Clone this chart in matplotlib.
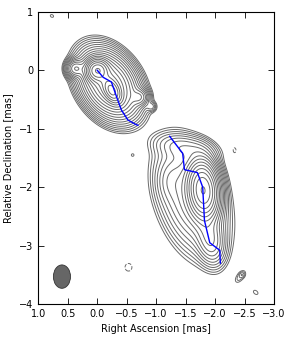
import numpy as np
import matplotlib
matplotlib.use('Agg')
import matplotlib.pyplot as plt
from matplotlib.patches import Ellipse

# Emission components (RA [mas], Dec [mas], amplitude in units of lowest contour,
# sigma major, sigma minor [mas], angle of major axis from +RA axis [deg])
comp_ra    = [0.00, 0.37, -0.25, -0.72, -0.92, -0.20, -1.80, -1.50, -1.92, -1.60, -1.22, 0.77, -0.60, -2.43, -2.46, -2.69, -2.33, -0.53]
comp_dec   = [0.00, 0.03, -0.35, -0.46, -0.62, -0.24, -2.05, -1.32, -2.90, -2.20, -1.90, 0.93, -1.45, -3.53, -3.50, -3.80, -1.37, -3.37]
comp_amp   = [300, 40, 300, 25, 4, 150, 250, 8, 20, 20, 4, 1.3, 1.2, 1.8, 1.2, 1.3, -1.3, -1.3]
comp_smaj  = [0.10, 0.08, 0.12, 0.08, 0.05, 0.29, 0.25, 0.28, 0.22, 0.50, 0.20, 0.04, 0.03, 0.10, 0.03, 0.06, 0.07, 0.09]
comp_smin  = [0.10, 0.08, 0.07, 0.08, 0.05, 0.20, 0.13, 0.12, 0.12, 0.27, 0.12, 0.03, 0.03, 0.05, 0.03, 0.04, 0.04, 0.08]
comp_pa    = [0, 0, 63, 0, 0, 57, 85, 10, 80, 72, 90, 30, 0, 127, 0, 40, 90, 90]

# Ridge lines
ridge1_ra  = [0.00, -0.10, -0.24, -0.33, -0.41, -0.52, -0.66, -0.69]
ridge1_dec = [0.00, -0.12, -0.20, -0.46, -0.68, -0.85, -0.93, -0.94]
ridge2_ra  = [-1.23, -1.45, -1.48, -1.70, -1.79, -1.82, -1.91, -2.08, -2.09]
ridge2_dec = [-1.13, -1.42, -1.70, -1.75, -2.00, -2.57, -2.95, -3.08, -3.30]

# Beam
beam_ra, beam_dec, beam_w, beam_h = 0.60, -3.53, 0.29, 0.40

x = np.linspace(1.0, -3.0, 500)
y = np.linspace(-4.0, 1.0, 620)
X, Y = np.meshgrid(x, y)
Z = np.zeros_like(X)
for ra, dec, a, sm, sn, pa in zip(comp_ra, comp_dec, comp_amp, comp_smaj, comp_smin, comp_pa):
    t = np.deg2rad(pa)
    dx = X - ra
    dy = Y - dec
    u = dx * np.cos(t) + dy * np.sin(t)
    v = -dx * np.sin(t) + dy * np.cos(t)
    Z += a * np.exp(-0.5 * ((u / sm) ** 2 + (v / sn) ** 2))

levels = 2.0 ** (np.arange(0, 24) / 2.0)

fig = plt.figure(figsize=(2.93, 3.39), dpi=100)
ax = fig.add_axes([0.131, 0.103, 0.804, 0.862])
ax.contour(X, Y, Z, levels=levels, colors='#6a6a6a', linewidths=0.7)
ax.contour(X, Y, Z, levels=[-1.0], colors='#6a6a6a', linewidths=0.7, linestyles='dashed')
ax.plot(ridge1_ra, ridge1_dec, color='blue', lw=1.0)
ax.plot(ridge2_ra, ridge2_dec, color='blue', lw=1.0)
ax.add_patch(Ellipse((beam_ra, beam_dec), beam_w, beam_h, facecolor='#666666', edgecolor='#333333', lw=0.6))

ax.set_xlim(1.0, -3.0)
ax.set_ylim(-4.0, 1.0)
ax.set_xticks([1.0, 0.5, 0.0, -0.5, -1.0, -1.5, -2.0, -2.5, -3.0])
ax.set_yticks([-4, -3, -2, -1, 0, 1])
ax.tick_params(direction='in', top=True, right=True, labelsize=7, length=4, width=0.6)
for s in ax.spines.values():
    s.set_linewidth(0.8)
ax.set_xlabel('Right Ascension [mas]', fontsize=7)
ax.set_ylabel('Relative Declination [mas]', fontsize=7)
fig.savefig('out.png', dpi=100)
